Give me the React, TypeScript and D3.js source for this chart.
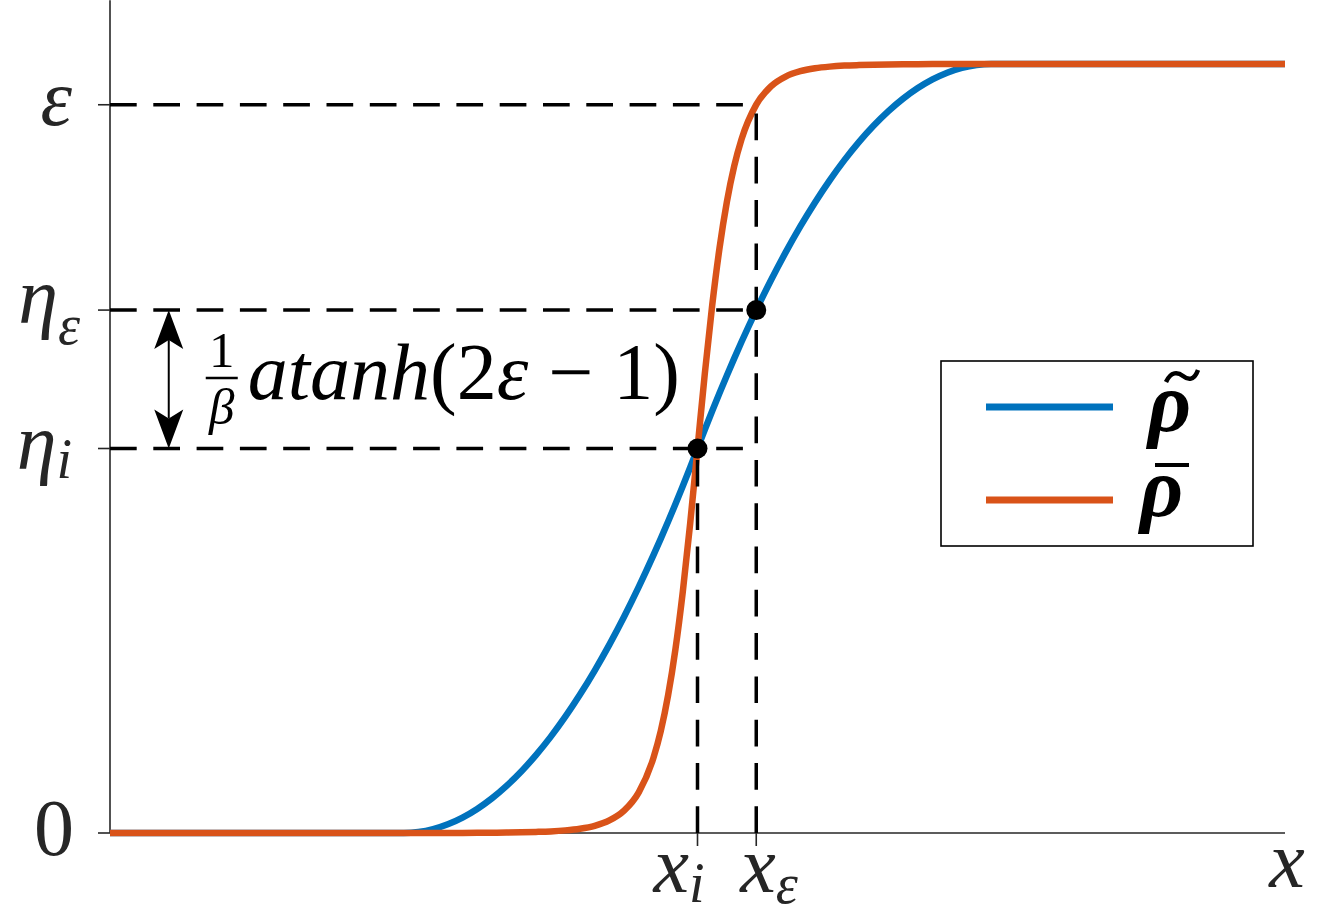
import React from "react";
import * as d3 from "d3";

// ---- data ----
const xGrid = [
  0, 0.25, 0.2625, 0.275, 0.2875, 0.3, 0.3125, 0.325, 0.3375, 0.35, 0.3625, 0.375, 0.3875, 0.4,
  0.4125, 0.425, 0.4375, 0.45, 0.4625, 0.46875, 0.475, 0.48125, 0.4875, 0.49375, 0.5, 0.50625,
  0.5125, 0.51875, 0.525, 0.53125, 0.5375, 0.55, 0.5625, 0.575, 0.5875, 0.6, 0.6125, 0.625,
  0.6375, 0.65, 0.6625, 0.675, 0.6875, 0.7, 0.7125, 0.725, 0.7375, 0.75, 1,
];
const rhoTildeValues = [
  0, 0, 0.00125, 0.005, 0.01125, 0.02, 0.03125, 0.045, 0.06125, 0.08, 0.10125, 0.125, 0.15125, 0.18,
  0.21125, 0.245, 0.28125, 0.32, 0.36125, 0.3828, 0.405, 0.4278, 0.45125, 0.4753, 0.5, 0.5247,
  0.54875, 0.5722, 0.595, 0.6172, 0.63875, 0.68, 0.71875, 0.755, 0.78875, 0.82, 0.84875, 0.875,
  0.89875, 0.92, 0.93875, 0.955, 0.96875, 0.98, 0.98875, 0.995, 0.99875, 1, 1,
];
const rhoBarValues = [
  0, 0, 0, 0, 0.0001, 0.0001, 0.0002, 0.0004, 0.0006, 0.0009, 0.0014, 0.0021, 0.0034, 0.0056,
  0.0094, 0.0163, 0.029, 0.0528, 0.0977, 0.1326, 0.1792, 0.2393, 0.314, 0.4022, 0.5, 0.5978,
  0.686, 0.7607, 0.8208, 0.8674, 0.9023, 0.9472, 0.971, 0.9837, 0.9906, 0.9944, 0.9966, 0.9979,
  0.9986, 0.9991, 0.9994, 0.9996, 0.9998, 0.9999, 0.9999, 1, 1, 1, 1,
];

const seriesColors = ["#0072BD", "#D95319"];

const xI = 0.5;
const xEps = 0.55;
const etaI = 0.5;
const etaEps = 0.68;
const epsLevel = 0.947;
const yAxisTop = 1.083;
const arrowX = 0.05;

const yTickValues = [0, etaI, etaEps, epsLevel];
const xTickValues = [xI, xEps];

const W = 1321;
const H = 918;
const FONT = "Liberation Serif, DejaVu Serif, serif";
const AXIS = "#262626";

const T: React.CSSProperties = { fontFamily: FONT };

export default function App() {
  const x = d3.scaleLinear().domain([0, 1]).range([110, 1285]);
  const y = d3.scaleLinear().domain([0, 1]).range([833, 64]);

  const line = d3
    .line<[number, number]>()
    .x((d) => x(d[0]))
    .y((d) => y(d[1]))
    .curve(d3.curveMonotoneX);

  const blue = line(xGrid.map((v, i) => [v, rhoTildeValues[i]] as [number, number])) || "";
  const orange = line(xGrid.map((v, i) => [v, rhoBarValues[i]] as [number, number])) || "";

  const dash = "26.7 16.6";
  const ax = x(arrowX);
  const aTop = y(etaEps);
  const aBot = y(etaI);

  const hLines = [epsLevel, etaEps, etaI];
  const vLines: [number, number][] = [
    [xEps, epsLevel],
    [xI, etaI],
  ];

  const fracX = x(arrowX) + 53;

  return (
    <svg
      width={W}
      height={H}
      style={{ position: "absolute", left: 0, top: 0, display: "block", background: "#fff" }}
    >
      <rect x={0} y={0} width={W} height={H} fill="#fff" />
      {/* axes */}
      <line x1={x(0)} x2={x(0)} y1={y(0)} y2={y(yAxisTop)} stroke={AXIS} strokeWidth={1.6} />
      <line x1={x(0)} x2={x(1)} y1={y(0)} y2={y(0)} stroke={AXIS} strokeWidth={1.6} />
      {yTickValues.map((v, i) => (
        <line key={"yt" + i} x1={x(0) - 12} x2={x(0)} y1={y(v)} y2={y(v)} stroke={AXIS} strokeWidth={1.6} />
      ))}
      {xTickValues.map((v, i) => (
        <line key={"xt" + i} x1={x(v)} x2={x(v)} y1={y(0)} y2={y(0) + 13} stroke={AXIS} strokeWidth={1.6} />
      ))}

      {/* curves */}
      <path d={blue} fill="none" stroke={seriesColors[0]} strokeWidth={6.5} />
      <path d={orange} fill="none" stroke={seriesColors[1]} strokeWidth={6.5} />

      {/* dashed guides */}
      {hLines.map((v, i) => (
        <line
          key={"h" + i}
          x1={x(0)}
          x2={x(xEps)}
          y1={y(v)}
          y2={y(v)}
          stroke="#000"
          strokeWidth={3.5}
          strokeDasharray={dash}
        />
      ))}
      {vLines.map(([xv, lv], i) => (
        <line
          key={"v" + i}
          x1={x(xv)}
          x2={x(xv)}
          y1={y(0)}
          y2={y(lv)}
          stroke="#000"
          strokeWidth={3.5}
          strokeDasharray={dash}
        />
      ))}

      {/* dots */}
      <circle cx={x(xI)} cy={y(etaI)} r={10} fill="#000" />
      <circle cx={x(xEps)} cy={y(etaEps)} r={10} fill="#000" />

      {/* double arrow */}
      <line x1={ax} x2={ax} y1={aTop + 30} y2={aBot - 30} stroke="#000" strokeWidth={2} />
      <path
        d={`M${ax},${aTop} L${ax - 14.5},${aTop + 39} L${ax},${aTop + 30} L${ax + 14.5},${aTop + 39} Z`}
        fill="#000"
      />
      <path
        d={`M${ax},${aBot} L${ax - 14.5},${aBot - 39} L${ax},${aBot - 30} L${ax + 14.5},${aBot - 39} Z`}
        fill="#000"
      />

      {/* annotation 1/beta atanh(2eps - 1) */}
      <text style={T} x={fracX} y={367} fontSize={51} textAnchor="middle" fill="#000">1</text>
      <line x1={fracX - 16} x2={fracX + 16} y1={378} y2={378} stroke="#000" strokeWidth={2.5} />
      <text style={T} x={fracX} y={424} fontSize={51} fontStyle="italic" textAnchor="middle" fill="#000">β</text>
      <text style={T} x={fracX + 26} y={399} fontSize={80} fill="#000">
        <tspan fontStyle="italic">atanh</tspan>
        <tspan>(2</tspan>
        <tspan fontStyle="italic">ε</tspan>
        <tspan> − 1)</tspan>
      </text>

      {/* y tick labels */}
      <text style={T} x={72} y={y(epsLevel) + 20} fontSize={80} fontStyle="italic" textAnchor="end" fill={AXIS}>ε</text>
      <text style={T} x={80} y={y(etaEps) + 13} fontSize={80} fontStyle="italic" textAnchor="end" fill={AXIS}>
        η<tspan fontSize={56} dy={21}>ε</tspan>
      </text>
      <text style={T} x={72} y={y(etaI) + 20} fontSize={80} fontStyle="italic" textAnchor="end" fill={AXIS}>
        η<tspan fontSize={56} dy={9}>i</tspan>
      </text>
      <text style={T} x={74} y={y(0) + 22} fontSize={80} textAnchor="end" fill={AXIS}>0</text>

      {/* x tick labels */}
      <text style={T} x={x(xI) - 44} y={892} fontSize={80} fontStyle="italic" fill={AXIS}>
        x<tspan fontSize={56} dy={10}>i</tspan>
      </text>
      <text style={T} x={x(xEps) - 16} y={892} fontSize={80} fontStyle="italic" fill={AXIS}>
        x<tspan fontSize={56} dy={11}>ε</tspan>
      </text>
      <text style={T} x={x(1) + 2} y={887} fontSize={80} fontStyle="italic" textAnchor="middle" fill={AXIS}>x</text>

      {/* legend */}
      <rect x={941} y={361} width={312} height={185} fill="#fff" stroke="#000" strokeWidth={1.6} />
      <line x1={986} x2={1113} y1={407} y2={407} stroke={seriesColors[0]} strokeWidth={7} />
      <line x1={986} x2={1113} y1={500} y2={500} stroke={seriesColors[1]} strokeWidth={7} />
      <text style={T} x={1148} y={431} fontSize={84} fontStyle="italic" fontWeight="bold" fill="#000">ρ</text>
      <path
        d="M1166,382 C1171,371 1178,372 1183,376 C1188,380 1194,381 1198,370"
        fill="none"
        stroke="#000"
        strokeWidth={4.5}
      />
      <text style={T} x={1140} y={516} fontSize={84} fontStyle="italic" fontWeight="bold" fill="#000">ρ</text>
      <line x1={1155} x2={1189} y1={465} y2={465} stroke="#000" strokeWidth={4} />
    </svg>
  );
}
